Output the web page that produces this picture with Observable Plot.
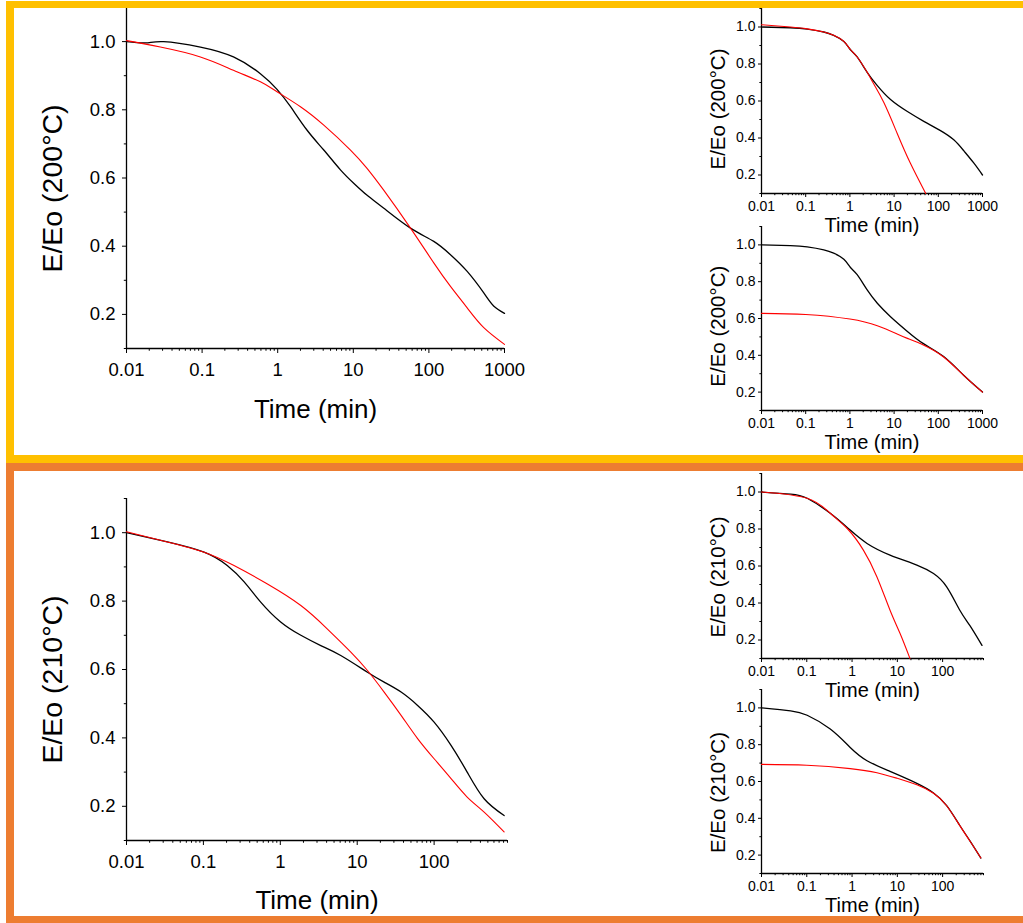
<!DOCTYPE html>
<html><head><meta charset="utf-8">
<script src="https://cdn.jsdelivr.net/npm/d3@7"></script>
<script src="https://cdn.jsdelivr.net/npm/@observablehq/plot@0.6"></script>
<style>
body{margin:0;background:#fff;}
#root{position:relative;width:1023px;height:923px;overflow:hidden;background:#fff;}
.frame{position:absolute;box-sizing:border-box;border-right:none;}
.panel{position:absolute;}
</style></head><body><div id="root"></div>
<script>
// ---- data (time in min, E/Eo) ----
const xMajor = [0.01, 0.1, 1, 10, 100, 1000];
const yMajor = [0.2, 0.4, 0.6, 0.8, 1.0];
const yMinor = [0.1, 0.3, 0.5, 0.7, 0.9, 1.1];
const yDomain = [0.1, 1.1];
const xLabel = "Time (min)";
const yLabel200 = "E/Eo (200°C)";
const yLabel210 = "E/Eo (210°C)";

// 200°C, large panel
const blackA = [[0.01,1.0],[0.018,0.996],[0.031,1.0],[0.095,0.984],[0.26,0.955],[0.59,0.906],[0.98,0.86],[1.48,0.809],[2.45,0.74],[4.07,0.682],[6.76,0.624],[10.2,0.584],[15.1,0.55],[25.1,0.512],[57.1,0.453],[116,0.414],[193,0.375],[321,0.326],[532,0.263],[724,0.224],[1000,0.203]];
const redA = [[0.01,1.003],[0.028,0.984],[0.095,0.955],[0.26,0.916],[0.59,0.882],[0.98,0.853],[2.0,0.809],[4.07,0.755],[9.18,0.682],[15.1,0.629],[25.1,0.565],[57.1,0.453],[116,0.351],[193,0.282],[321,0.219],[532,0.161],[1000,0.112]];
// 200°C, small panels
const blackB = [[0.01,1.0],[0.045,0.996],[0.108,0.989],[0.257,0.973],[0.43,0.955],[0.73,0.922],[1.03,0.877],[1.46,0.838],[2.46,0.755],[4.17,0.683],[8.3,0.608],[20,0.543],[47,0.49],[112,0.44],[224,0.39],[380,0.33],[633,0.265],[1000,0.2]];
const redB = [[0.01,1.012],[0.045,1.0],[0.108,0.99],[0.257,0.973],[0.43,0.955],[0.73,0.922],[1.03,0.877],[1.46,0.838],[2.46,0.755],[3.5,0.69],[5.9,0.59],[11.7,0.426],[23.4,0.263],[52,0.1]];
const blackC = [[0.01,1.0],[0.045,0.996],[0.108,0.989],[0.257,0.973],[0.43,0.955],[0.73,0.922],[1.03,0.877],[1.46,0.838],[2.46,0.755],[4.17,0.683],[8.3,0.61],[20,0.53],[47,0.462],[132,0.393],[380,0.29],[1000,0.2]];
const redC = [[0.01,0.628],[0.1,0.622],[1.0,0.597],[4.17,0.561],[11.7,0.516],[20,0.492],[47,0.455],[132,0.391],[380,0.29],[1000,0.2]];
// 210°C, large panel
const blackD = [[0.01,1.0],[0.034,0.973],[0.102,0.943],[0.204,0.904],[0.339,0.856],[0.556,0.797],[1.01,0.739],[1.85,0.70],[3.36,0.67],[6.11,0.641],[13.6,0.592],[22.4,0.563],[37.2,0.534],[61,0.495],[100,0.446],[166,0.378],[269,0.30],[447,0.222],[813,0.173]];
const redD = [[0.01,1.003],[0.034,0.973],[0.102,0.943],[0.25,0.904],[0.68,0.85],[1.85,0.787],[4.07,0.719],[8.26,0.651],[13.6,0.597],[22.4,0.534],[37.2,0.466],[61,0.398],[100,0.339],[166,0.281],[269,0.227],[447,0.183],[813,0.125]];
// 210°C, small panels
const blackE = [[0.01,1.0],[0.044,0.989],[0.102,0.966],[0.33,0.885],[0.91,0.794],[2.14,0.722],[6.9,0.659],[27,0.605],[63,0.559],[123,0.487],[240,0.361],[398,0.279],[741,0.171]];
const redE = [[0.01,1.0],[0.102,0.966],[0.33,0.885],[0.8,0.80],[1.78,0.686],[3.55,0.541],[6.9,0.361],[11.5,0.235],[19,0.1]];
const blackF = [[0.01,1.0],[0.044,0.984],[0.102,0.96],[0.33,0.885],[0.91,0.785],[2.14,0.713],[6.9,0.655],[27,0.59],[63,0.538],[123,0.469],[240,0.361],[398,0.279],[700,0.184]];
const redF = [[0.01,0.693],[0.1,0.688],[0.91,0.670],[3.55,0.648],[9.8,0.618],[27,0.582],[63,0.536],[123,0.468],[240,0.36],[398,0.278],[700,0.184]];

const fontFamily = '"Liberation Sans", Arial, Helvetica, sans-serif';
const root = document.getElementById("root");

function minorTicks(max) {
  const out = [];
  for (const m of [0.01, 0.1, 1, 10, 100]) for (let k = 2; k <= 9; k++) {
    const v = +(k * m).toPrecision(3);
    if (v <= max * 1.0001) out.push(v);
  }
  return out;
}

function makePanel(o) {
  const xMax = o.xMax;
  const svg = Plot.plot({
    width: o.w, height: o.h,
    marginLeft: o.ml, marginRight: o.mr, marginTop: o.mt, marginBottom: o.mb,
    style: {background: "transparent", fontFamily, fontSize: o.tickFont + "px", color: "black", overflow: "visible"},
    x: {type: "log", domain: [0.01, xMax], label: null},
    y: {domain: yDomain, label: null},
    marks: [
      Plot.axisX({ticks: minorTicks(xMax), tickSize: o.xTick * 0.55, tickFormat: () => "", label: null, strokeWidth: 1}),
      Plot.axisX({ticks: xMajor.filter(v => v <= xMax * 1.0001), tickSize: o.xTick, tickPadding: o.xPad, tickFormat: d => String(d), label: null, strokeWidth: 1}),
      Plot.axisY({ticks: yMinor, tickSize: o.yTick * 0.55, tickFormat: () => "", label: null, strokeWidth: 1}),
      Plot.axisY({ticks: yMajor, tickSize: o.yTick, tickPadding: o.yPad, tickFormat: d3.format(".1f"), label: null, strokeWidth: 1}),
      Plot.ruleX([0.01], {stroke: "black", strokeWidth: 1.3}),
      Plot.ruleY([yDomain[0]], {stroke: "black", strokeWidth: 1.3}),
      Plot.line(o.black, {x: d => d[0], y: d => d[1], stroke: "black", strokeWidth: 1.3, curve: "natural"}),
      Plot.line(o.red, {x: d => d[0], y: d => d[1], stroke: "#ff0000", strokeWidth: 1.1, curve: "natural"}),
      Plot.text([o.yTitle], {text: d => d, frameAnchor: "left", rotate: -90, dx: o.ytDx, dy: o.ytDy, fontSize: o.yTitleFont, textAnchor: "middle", lineAnchor: "middle", fill: "black"}),
      Plot.text([xLabel], {text: d => d, frameAnchor: "bottom", dy: o.xtDy, fontSize: o.xTitleFont, textAnchor: "middle", lineAnchor: "middle", fill: "black"})
    ]
  });
  svg.classList.add("panel");
  svg.style.left = o.left + "px";
  svg.style.top = o.top + "px";
  svg.style.maxWidth = "none";
  root.appendChild(svg);
}

const big = {w: 560, h: 440, ml: 126, tickFont: 18.5, yTitleFont: 28.5, xTitleFont: 26, xTick: 5, xPad: 9, yTick: 4, yPad: 7, ytDx: -74};
const small = {w: 333, ml: 71, tickFont: 14, yTitleFont: 20.5, xTitleFont: 20, xTick: 4, xPad: 4, yTick: 3, yPad: 3, ytDx: -43.5, xtDy: 32.5};

makePanel({...big, left: 0, top: 0, mr: 56, mt: 7, mb: 92, xMax: 1000, black: blackA, red: redA, yTitle: yLabel200, ytDy: 10.5, xtDy: 61});
makePanel({...small, left: 690, top: 0, h: 235, mr: 41, mt: 8, mb: 42, xMax: 1000, black: blackB, red: redB, yTitle: yLabel200, ytDy: 8});
makePanel({...small, left: 690, top: 218, h: 234, mr: 41, mt: 8, mb: 42, xMax: 1000, black: blackC, red: redC, yTitle: yLabel200, ytDy: 7.7});
makePanel({...big, left: 0, top: 490, mr: 53, mt: 8, mb: 90, xMax: 900, black: blackD, red: redD, yTitle: yLabel210, ytDy: 10, xtDy: 60});
makePanel({...small, left: 690, top: 465, h: 235, mr: 40, mt: 8, mb: 42, xMax: 800, black: blackE, red: redE, yTitle: yLabel210, ytDy: 11});
makePanel({...small, left: 690, top: 681, h: 234, mr: 40, mt: 8, mb: 42, xMax: 800, black: blackF, red: redF, yTitle: yLabel210, ytDy: 11});

// frames
function frame(top, height, color, bt, bb) {
  const d = document.createElement("div");
  d.className = "frame";
  Object.assign(d.style, {left: "6px", top: top + "px", width: "1100px", height: height + "px",
    borderTop: bt + "px solid " + color, borderLeft: "8px solid " + color, borderBottom: bb + "px solid " + color});
  root.appendChild(d);
}
frame(1, 462, "#FFC000", 7, 8);
frame(463, 461, "#ED7D31", 8, 8);
</script>
</body></html>
